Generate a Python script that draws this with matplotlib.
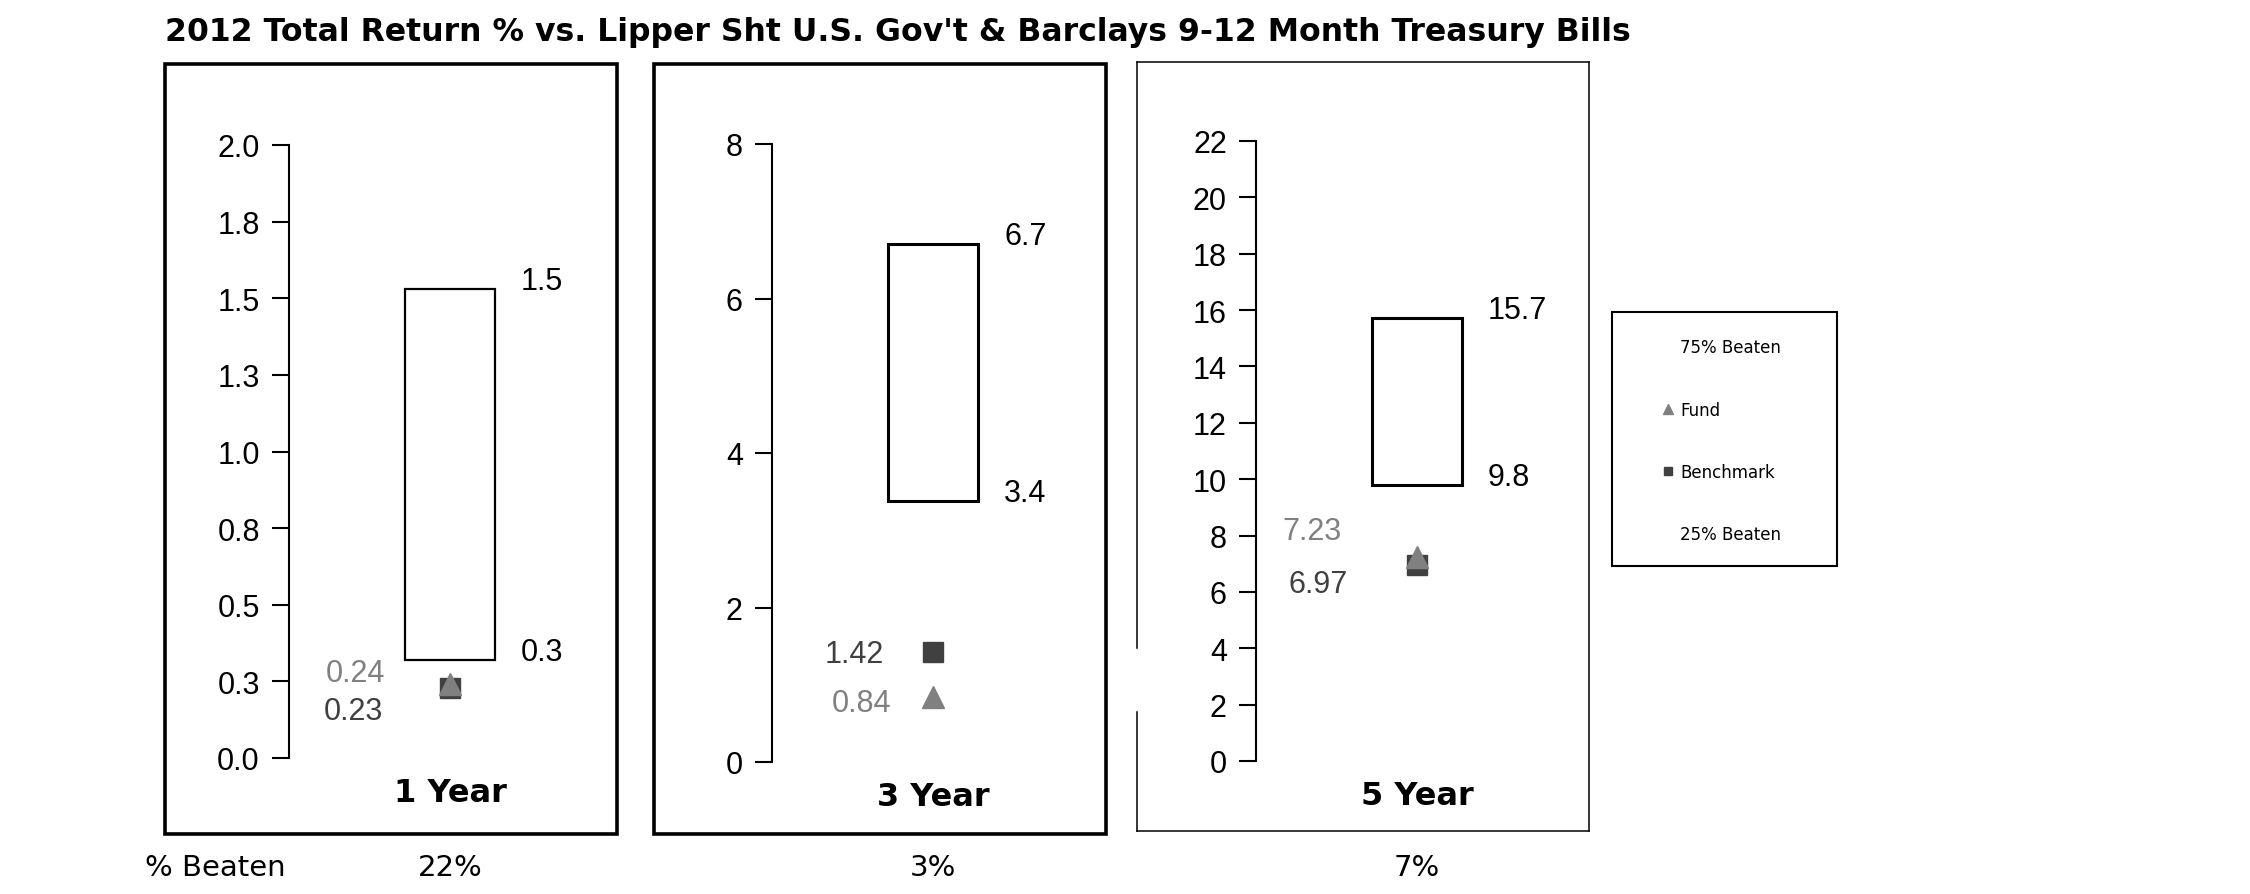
import matplotlib
matplotlib.use("Agg")
import matplotlib.pyplot as plt
import matplotlib.transforms as mtransforms
from matplotlib.patches import Rectangle
from matplotlib.lines import Line2D
import numpy as np

# chart data
periods = ["1 Year", "3 Year", "5 Year"]
top_quartile = [1.53, 6.70, 15.72]     # 75% beaten
bottom_quartile = [0.32, 3.38, 9.80]   # 25% beaten
fund_returns = [0.24, 0.84, 7.23]
benchmark_returns = [0.23, 1.42, 6.97]
pct_beaten = ["22%", "3%", "7%"]
y_max = [2.0, 8, 22]
y_step = [0.25, 2, 2]
tick_decimals = [1, 0, 0]

title = "2012 Total Return % vs. Lipper Sht U.S. Gov't & Barclays 9-12 Month Treasury Bills"

W, H = 2250, 895
FUND_COLOR = "#808080"
BENCH_COLOR = "#404040"
NUM_FONT = "Liberation Sans"
NUM_SIZE = 22

# layout in pixels: y axis (left, top, bottom), panel frame (left, top, right, bottom)
axis_px = [(289, 146, 759), (772, 145, 763), (1256, 142, 762)]
frame_px = [(165, 65, 617, 835), (654, 65, 1106, 835), (1137, 63, 1589, 832)]
frame_lw = [2.6, 2.6, 1.1]
box_lw = [1.6, 2.2, 2.2]
AX_W = 322
# value label offsets in pixels (dx, dy)
fund_off = [(-65, 11), (-42, -6), (-75, 26)]
bench_off = [(-67, -23), (-49, -2), (-69, -19)]


def fx(px):
    return px / W


def fy(py):
    return 1 - py / H


def round_half_up(v, nd):
    f = 10 ** nd
    return np.floor(v * f + 0.5) / f


fig = plt.figure(figsize=(W / 100, H / 100), dpi=100)
fig.text(fx(165), fy(32), title, fontsize=22.7, fontweight="bold",
         family="DejaVu Sans", ha="left", va="center")

for i, period in enumerate(periods):
    left, top, bottom = axis_px[i]
    ax = fig.add_axes([fx(left), fy(bottom), AX_W / W, (bottom - top) / H])
    ax.set_xlim(0, 1)
    ax.set_ylim(0, y_max[i])
    ticks = np.arange(0, y_max[i] + y_step[i] / 2, y_step[i])
    ax.set_yticks(ticks)
    nd = tick_decimals[i]
    ax.set_yticklabels([f"{round_half_up(t, nd):.{nd}f}" for t in ticks], family=NUM_FONT)
    ax.set_xticks([])
    for s in ["top", "right", "bottom"]:
        ax.spines[s].set_visible(False)
    ax.spines["left"].set_linewidth(1.5)
    ax.tick_params(axis="y", direction="out", length=12, width=1.5, pad=9, labelsize=NUM_SIZE)
    ax.patch.set_alpha(0)

    # quartile box
    ax.bar(0.5, top_quartile[i] - bottom_quartile[i], bottom=bottom_quartile[i], width=0.28,
           facecolor="white", edgecolor="black", linewidth=box_lw[i], zorder=2)
    for v in (top_quartile[i], bottom_quartile[i]):
        ax.annotate(f"{round_half_up(v, 1):.1f}", xy=(0.64, v), xytext=(26, 8),
                    textcoords="offset pixels", ha="left", va="center",
                    fontsize=NUM_SIZE, family=NUM_FONT)

    # fund and benchmark markers
    ax.plot(0.5, benchmark_returns[i], marker="s", ms=15, color=BENCH_COLOR,
            linestyle="none", zorder=3, clip_on=False)
    ax.plot(0.5, fund_returns[i], marker="^", ms=16, color=FUND_COLOR,
            linestyle="none", zorder=4, clip_on=False)
    ax.annotate(f"{fund_returns[i]:.2f}", xy=(0.5, fund_returns[i]), xytext=fund_off[i],
                textcoords="offset pixels", ha="right", va="center",
                fontsize=NUM_SIZE, family=NUM_FONT, color=FUND_COLOR)
    ax.annotate(f"{benchmark_returns[i]:.2f}", xy=(0.5, benchmark_returns[i]), xytext=bench_off[i],
                textcoords="offset pixels", ha="right", va="center",
                fontsize=NUM_SIZE, family=NUM_FONT, color=BENCH_COLOR)

    ax.annotate(period, xy=(0.5, 0), xycoords="axes fraction", xytext=(0, -35),
                textcoords="offset pixels", ha="center", va="center",
                fontsize=23, fontweight="heavy", family="DejaVu Sans")

    trans = mtransforms.blended_transform_factory(ax.transData, fig.transFigure)
    ax.text(0.5, fy(868), pct_beaten[i], transform=trans, ha="center", va="center",
            fontsize=21, family="DejaVu Sans")

    # panel frame
    l, t, r, b = frame_px[i]
    if i < 2:
        fig.add_artist(Rectangle((fx(l), fy(b)), (r - l) / W, (b - t) / H, fill=False,
                                 edgecolor="black", linewidth=frame_lw[i],
                                 transform=fig.transFigure))
    else:
        segs = [((l, t), (r, t)), ((r, t), (r, b)), ((r, b), (l, b)),
                ((l, b), (l, 713)), ((l, 649), (l, t))]
        for (x0, y0), (x1, y1) in segs:
            fig.add_artist(Line2D([fx(x0), fx(x1)], [fy(y0), fy(y1)], color="black",
                                  linewidth=frame_lw[i], transform=fig.transFigure))

fig.text(fx(145), fy(868), "% Beaten", fontsize=21, family="DejaVu Sans", ha="left", va="center")

# legend
fig.add_artist(Rectangle((fx(1612), fy(567)), (1837 - 1612) / W, (567 - 313) / H, fill=False,
                         edgecolor="black", linewidth=1.5, transform=fig.transFigure))
handles = [
    Line2D([], [], linestyle="none"),
    Line2D([], [], linestyle="none", marker="^", ms=7, color=FUND_COLOR),
    Line2D([], [], linestyle="none", marker="s", ms=6, color=BENCH_COLOR),
    Line2D([], [], linestyle="none"),
]
labels = ["75% Beaten", "Fund", "Benchmark", "25% Beaten"]
fig.legend(handles, labels, loc="upper left", bbox_to_anchor=(fx(1652), fy(331)),
           frameon=False, labelspacing=2.65, handlelength=0.9,
           handletextpad=0.3, borderpad=0, prop={"family": "DejaVu Sans", "size": 12})

fig.savefig("out.png", dpi=100)
